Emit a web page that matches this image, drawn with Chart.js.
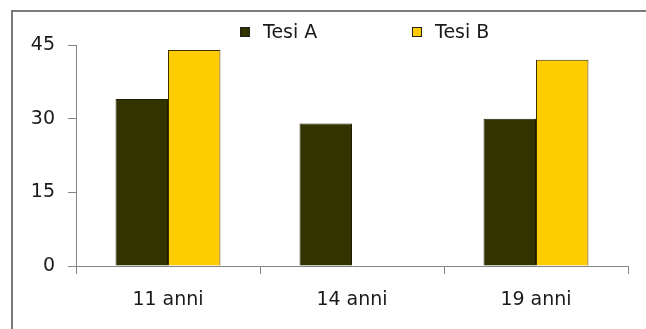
<!DOCTYPE html>
<html>
<head>
<meta charset="utf-8">
<script src="https://cdn.jsdelivr.net/npm/chart.js@4.4.1/dist/chart.umd.min.js"></script>
<style>
  html, body { margin: 0; padding: 0; background: #ffffff; }
  #wrap { width: 646px; height: 329px; position: relative; }
</style>
</head>
<body>
<div id="wrap"><canvas id="chart" width="646" height="329"></canvas></div>
<script>
// Age groups and the two series
const categories = ['11 anni', '14 anni', '19 anni'];
const tesiA = [34, 29, 30];
const tesiB = [44, null, 42];
const yTicks = [0, 15, 30, 45];

const FONT = { family: "'DejaVu Sans', sans-serif", size: 19 };
const TEXT = '#1a1a1a';
const AXIS = '#858585';

// Outer frame around the figure
const framePlugin = {
  id: 'frame',
  beforeDraw(chart) {
    const ctx = chart.ctx;
    ctx.save();
    ctx.fillStyle = '#ffffff';
    ctx.fillRect(0, 0, chart.width, chart.height);
    ctx.strokeStyle = '#7a7a7a';
    ctx.lineWidth = 2;
    ctx.beginPath();
    ctx.moveTo(12, chart.height + 2);
    ctx.lineTo(12, 11);
    ctx.lineTo(chart.width + 2, 11);
    ctx.stroke();
    ctx.restore();
  }
};

// Legend row above the plot: square swatch + series name
const legendRow = {
  id: 'legendRow',
  afterDraw(chart, args, opts) {
    const ctx = chart.ctx;
    ctx.save();
    ctx.font = `${FONT.size}px ${FONT.family}`;
    ctx.textBaseline = 'middle';
    ctx.textAlign = 'left';
    chart.data.datasets.forEach((ds, i) => {
      const x = opts.x + i * opts.step;
      const y = opts.y;
      ctx.fillStyle = ds.backgroundColor;
      ctx.fillRect(x, y - opts.box / 2, opts.box, opts.box);
      ctx.strokeStyle = '#222222';
      ctx.lineWidth = 1;
      ctx.strokeRect(x + 0.5, y - opts.box / 2 + 0.5, opts.box - 1, opts.box - 1);
      ctx.fillStyle = TEXT;
      ctx.fillText(ds.label, x + opts.box + opts.gap, y + 1);
    });
    ctx.restore();
  }
};

new Chart(document.getElementById('chart'), {
  type: 'bar',
  data: {
    labels: categories,
    datasets: [
      { label: 'Tesi A', data: tesiA, backgroundColor: '#333300', borderColor: '#1e1e00', borderWidth: 1 },
      { label: 'Tesi B', data: tesiB, backgroundColor: '#ffcc00', borderColor: '#3a3000', borderWidth: 1 }
    ]
  },
  options: {
    responsive: false,
    animation: false,
    devicePixelRatio: 1,
    layout: { padding: { top: 45, right: 18, bottom: 0, left: 0 } },
    datasets: { bar: { categoryPercentage: 0.57, barPercentage: 1 } },
    plugins: {
      legend: { display: false },
      tooltip: { enabled: false },
      legendRow: { x: 240, step: 172, y: 32, box: 10, gap: 13 }
    },
    scales: {
      x: {
        afterFit(scale) { scale.height = 63; },
        grid: { offset: true, drawOnChartArea: false, drawTicks: true, tickLength: 8, color: AXIS, lineWidth: 1 },
        border: { display: true, color: AXIS, width: 1 },
        ticks: { color: TEXT, font: FONT, padding: 15, maxRotation: 0 }
      },
      y: {
        min: 0,
        max: 45,
        afterFit(scale) { scale.width = 76; },
        afterBuildTicks(scale) { scale.ticks = yTicks.map(v => ({ value: v })); },
        grid: { drawOnChartArea: false, drawTicks: true, tickLength: 8, color: AXIS, lineWidth: 1 },
        border: { display: true, color: AXIS, width: 1 },
        ticks: { color: TEXT, font: FONT, padding: 13 }
      }
    }
  },
  plugins: [framePlugin, legendRow]
});
</script>
</body>
</html>
